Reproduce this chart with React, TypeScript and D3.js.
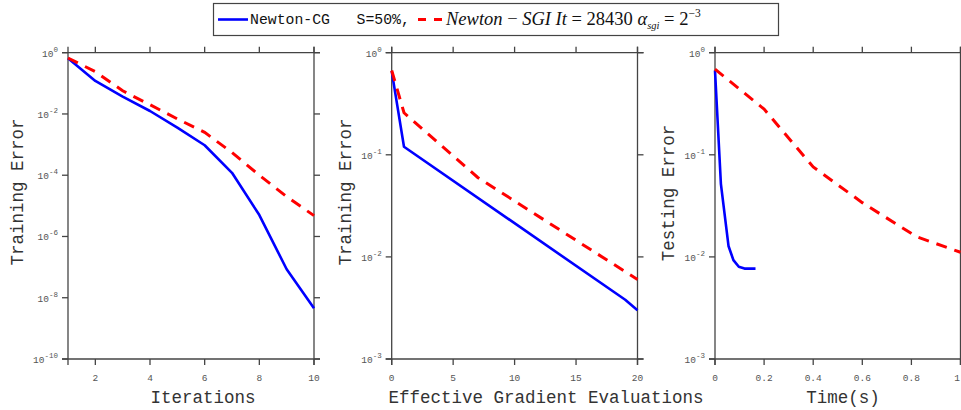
import React from 'react';
import * as d3 from 'd3';

// panel 1: training error vs iterations
const iterations = [1, 2, 3, 4, 5, 6, 7, 8, 9, 10];
const cgTrainIter = [0.66, 0.12, 0.037, 0.0125, 0.0036, 9.5e-4, 1.2e-4, 5e-6, 8.5e-8, 4.5e-9];
const sgiTrainIter = [0.67, 0.24, 0.057, 0.02, 0.0069, 0.0025, 5.5e-4, 1e-4, 2e-5, 4.8e-6];

// panel 2: training error vs effective gradient evaluations
const cgEvals = [0, 1, 19, 20];
const cgTrainEvals = [0.66, 0.12, 0.0038, 0.003];
const sgiEvals = [0, 1, 7, 20];
const sgiTrainEvals = [0.67, 0.258, 0.06, 0.006];

// panel 3: testing error vs time
const cgTime = [0, 0.024, 0.055, 0.075, 0.097, 0.12, 0.165];
const cgTest = [0.67, 0.052, 0.0128, 0.0093, 0.008, 0.00768, 0.00768];
const sgiTime = [0, 0.2, 0.4, 0.6, 0.82, 1.0];
const sgiTest = [0.69, 0.28, 0.076, 0.034, 0.0158, 0.0111];

const xTicks1 = [2, 4, 6, 8, 10];
const xTicks2 = [0, 5, 10, 15, 20];
const xTicks3 = [0, 0.2, 0.4, 0.6, 0.8, 1];
const yExp1 = [0, -2, -4, -6, -8, -10];
const yExp23 = [0, -1, -2, -3];

const AXIS = '#444';
const TICKTXT = '#555';
const MONO = '"Liberation Mono", "DejaVu Sans Mono", monospace';
const SERIF = '"Liberation Serif", "DejaVu Serif", serif';
const BLUE = '#0000ff';
const RED = '#ff0000';
const W = 961;

interface Series { x: number[]; y: number[]; }

interface PanelProps {
  x0: number; x1: number; y0: number; y1: number;
  xDomain: [number, number];
  yExps: number[];
  xTicks: number[];
  xFmt: (v: number) => string;
  cg: Series; sgi: Series;
  xLabel: string; xLabelCx: number;
  yLabel: string; yLabelX: number; yLabelCy: number;
}

const Panel: React.FC<PanelProps> = p => {
  const x = d3.scaleLinear().domain(p.xDomain).range([p.x0, p.x1]);
  const minE = d3.min(p.yExps) as number;
  const maxE = d3.max(p.yExps) as number;
  const y = d3.scaleLog().domain([Math.pow(10, minE), Math.pow(10, maxE)]).range([p.y1, p.y0]);
  const line = d3.line<[number, number]>().x(d => x(d[0])).y(d => y(d[1]));
  const pts = (s: Series) => s.x.map((v, i) => [v, s.y[i]] as [number, number]);
  const t = 6;
  return (
    <g>
      {/* frame */}
      <g stroke={AXIS} strokeWidth={1.3}>
        <line x1={p.x0 - t} x2={p.x1 + t} y1={p.y0} y2={p.y0} />
        <line x1={p.x0 - t} x2={p.x1 + t} y1={p.y1} y2={p.y1} />
        <line x1={p.x0} x2={p.x0} y1={p.y0 - t} y2={p.y1 + t} />
        <line x1={p.x1} x2={p.x1} y1={p.y0 - t} y2={p.y1 + t} />
        {p.xTicks.map(v => (
          <g key={'xt' + v}>
            <line x1={x(v)} x2={x(v)} y1={p.y1} y2={p.y1 + t} />
            <line x1={x(v)} x2={x(v)} y1={p.y0} y2={p.y0 - t} />
          </g>
        ))}
        {p.yExps.map(e => (
          <g key={'yt' + e}>
            <line x1={p.x0 - t} x2={p.x0} y1={y(Math.pow(10, e))} y2={y(Math.pow(10, e))} />
            <line x1={p.x1} x2={p.x1 + t} y1={y(Math.pow(10, e))} y2={y(Math.pow(10, e))} />
          </g>
        ))}
      </g>
      {/* tick labels */}
      <g fontFamily={MONO} fill={TICKTXT} fontSize={9.5}>
        {p.xTicks.map(v => {
          const edge = x(v) + 4 > W;
          return (
            <text key={'xl' + v} x={edge ? W - 1 : x(v)} y={p.y1 + 22} textAnchor={edge ? 'end' : 'middle'}>{p.xFmt(v)}</text>
          );
        })}
        {p.yExps.map(e => (
          <text key={'yl' + e} x={p.x0 - 10} y={y(Math.pow(10, e)) + 4} textAnchor="end">
            10<tspan fontSize={7.5} dy={-5}>{e === 0 ? '0' : '-' + Math.abs(e)}</tspan>
          </text>
        ))}
      </g>
      {/* series */}
      <path d={line(pts(p.cg)) || ''} fill="none" stroke={BLUE} strokeWidth={2.6} strokeLinejoin="round" />
      <path d={line(pts(p.sgi)) || ''} fill="none" stroke={RED} strokeWidth={3} strokeDasharray="11,8" />
      {/* axis labels */}
      <text x={p.xLabelCx} y={403} textAnchor="middle" fontFamily={MONO} fontSize={17.5} fill="#333">{p.xLabel}</text>
      <text transform={`translate(${p.yLabelX},${p.yLabelCy}) rotate(-90)`} textAnchor="middle" fontFamily={MONO} fontSize={17.5} fill="#333">{p.yLabel}</text>
    </g>
  );
};

const App: React.FC = () => {
  const y0 = 52.7;
  const y1 = 359;
  const fmt = (v: number) => String(v);
  const fmt3 = (v: number) => (v === 0 || v === 1 ? String(v) : v.toFixed(1));
  return (
    <svg width={W} height={410} style={{ position: 'absolute', left: 0, top: 0, background: '#fff' }}>
      <rect width={W} height={410} fill="#fff" />
      <Panel x0={68} x1={314} y0={y0} y1={y1} xDomain={[1, 10]} yExps={yExp1} xTicks={xTicks1} xFmt={fmt}
        cg={{ x: iterations, y: cgTrainIter }} sgi={{ x: iterations, y: sgiTrainIter }}
        xLabel="Iterations" xLabelCx={203} yLabel="Training Error" yLabelX={23} yLabelCy={192} />
      <Panel x0={391.7} x1={637.5} y0={y0} y1={y1} xDomain={[0, 20]} yExps={yExp23} xTicks={xTicks2} xFmt={fmt}
        cg={{ x: cgEvals, y: cgTrainEvals }} sgi={{ x: sgiEvals, y: sgiTrainEvals }}
        xLabel="Effective Gradient Evaluations" xLabelCx={546} yLabel="Training Error" yLabelX={351} yLabelCy={192} />
      <Panel x0={715} x1={960.5} y0={y0} y1={y1} xDomain={[0, 1]} yExps={yExp23} xTicks={xTicks3} xFmt={fmt3}
        cg={{ x: cgTime, y: cgTest }} sgi={{ x: sgiTime, y: sgiTest }}
        xLabel="Time(s)" xLabelCx={843} yLabel="Testing Error" yLabelX={674} yLabelCy={193} />
      {/* legend */}
      <g>
        <rect x={213.5} y={3.5} width={565} height={32} fill="#fff" stroke={AXIS} strokeWidth={1.2} />
        <line x1={218} x2={248} y1={19.5} y2={19.5} stroke={BLUE} strokeWidth={2.6} />
        <text x={250} y={24} fontFamily={MONO} fontSize={14.8} fill="#111" xmlSpace="preserve">{'Newton-CG   S=50%,'}</text>
        <line x1={418} x2={444} y1={19.5} y2={19.5} stroke={RED} strokeWidth={3} strokeDasharray="8,8" />
        <text x={446} y={25} fontFamily={SERIF} fontSize={18.5} fill="#111">
          <tspan fontStyle="italic">Newton</tspan>
          <tspan> − </tspan>
          <tspan fontStyle="italic">SGI It</tspan>
          <tspan> = 28430 </tspan>
          <tspan fontStyle="italic">α</tspan>
          <tspan fontStyle="italic" fontSize={10.5} dy={4}>sgi</tspan>
          <tspan dy={-4}> = 2</tspan>
          <tspan fontSize={11.5} dy={-8}>−3</tspan>
        </text>
      </g>
    </svg>
  );
};

export default App;
